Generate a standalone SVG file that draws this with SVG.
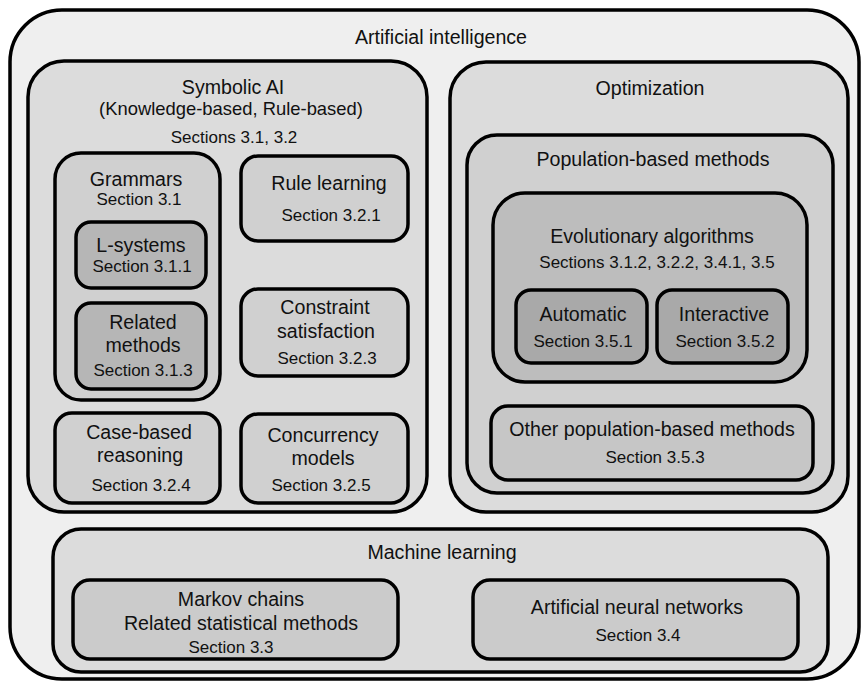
<svg xmlns="http://www.w3.org/2000/svg" width="862" height="682" viewBox="0 0 862 682">
<style>
.b{stroke:#000;stroke-width:3.5}
text{font-family:"Liberation Sans",Arial,sans-serif;fill:#111;text-anchor:middle}
.t{font-size:19.6px}
.p{font-size:18.4px}
.s{font-size:17px}
.l0{fill:#efefef}
.l1{fill:#dcdcdc}
.l2{fill:#d0d0d0}
.l3{fill:#bdbdbd}
.l4{fill:#a9a9a9}
.g3{fill:#b6b6b6}
.o3{fill:#c6c6c6}
.m2{fill:#cbcbcb}
</style>
<rect width="862" height="682" fill="#ffffff"/>
<g id="ai">
<rect class="b l0" x="10" y="10" width="849" height="669" rx="52"/>
<text class="t" x="441" y="44">Artificial intelligence</text>
</g>
<g id="symbolic">
<rect class="b l1" x="28" y="61" width="399" height="451" rx="36"/>
<text class="t" x="233" y="94">Symbolic AI</text>
<text class="p" x="231" y="115">(Knowledge-based, Rule-based)</text>
<text class="s" x="234" y="143">Sections 3.1, 3.2</text>
</g>
<g id="grammars">
<rect class="b l2" x="55" y="153" width="165" height="247" rx="26"/>
<text class="t" x="136" y="186">Grammars</text>
<text class="s" x="139" y="205">Section 3.1</text>
</g>
<g id="lsystems">
<rect class="b g3" x="76" y="222" width="130" height="66" rx="15"/>
<text class="t" x="141" y="252">L-systems</text>
<text class="s" x="142" y="272">Section 3.1.1</text>
</g>
<g id="related">
<rect class="b g3" x="76" y="303" width="130" height="86" rx="15"/>
<text class="t" x="143" y="329">Related</text>
<text class="t" x="143" y="352">methods</text>
<text class="s" x="143" y="376">Section 3.1.3</text>
</g>
<g id="rule">
<rect class="b l2" x="241" y="156" width="167" height="85" rx="17"/>
<text class="t" x="329" y="190">Rule learning</text>
<text class="s" x="331" y="221">Section 3.2.1</text>
</g>
<g id="constraint">
<rect class="b l2" x="241" y="289" width="167" height="87" rx="17"/>
<text class="t" x="325" y="314">Constraint</text>
<text class="t" x="326" y="338">satisfaction</text>
<text class="s" x="327" y="364">Section 3.2.3</text>
</g>
<g id="casebased">
<rect class="b l2" x="55" y="413" width="165" height="90" rx="17"/>
<text class="t" x="139" y="439">Case-based</text>
<text class="t" x="140" y="462">reasoning</text>
<text class="s" x="141" y="491">Section 3.2.4</text>
</g>
<g id="concurrency">
<rect class="b l2" x="241" y="414" width="167" height="89" rx="17"/>
<text class="t" x="323" y="442">Concurrency</text>
<text class="t" x="323" y="465">models</text>
<text class="s" x="321" y="491">Section 3.2.5</text>
</g>
<g id="optimization">
<rect class="b l1" x="450" y="62" width="398" height="450" rx="36"/>
<text class="t" x="650" y="95">Optimization</text>
</g>
<g id="population">
<rect class="b l2" x="467" y="135" width="366" height="358" rx="30"/>
<text class="t" x="653" y="166">Population-based methods</text>
</g>
<g id="evolutionary">
<rect class="b l3" x="493" y="193" width="314" height="189" rx="32"/>
<text class="t" x="652" y="243">Evolutionary algorithms</text>
<text class="s" x="657" y="268">Sections 3.1.2, 3.2.2, 3.4.1, 3.5</text>
</g>
<g id="automatic">
<rect class="b l4" x="516" y="290" width="131" height="73" rx="15"/>
<text class="t" x="583" y="321">Automatic</text>
<text class="s" x="583" y="347">Section 3.5.1</text>
</g>
<g id="interactive">
<rect class="b l4" x="657" y="290" width="131" height="73" rx="15"/>
<text class="t" x="724" y="321">Interactive</text>
<text class="s" x="725" y="347">Section 3.5.2</text>
</g>
<g id="otherpop">
<rect class="b o3" x="491" y="406" width="322" height="74" rx="17"/>
<text class="t" x="652" y="436">Other population-based methods</text>
<text class="s" x="655" y="463">Section 3.5.3</text>
</g>
<g id="ml">
<rect class="b l1" x="53" y="529" width="775" height="143" rx="28"/>
<text class="t" x="442" y="559">Machine learning</text>
</g>
<g id="markov">
<rect class="b m2" x="73" y="580" width="325" height="79" rx="17"/>
<text class="t" x="241" y="606">Markov chains</text>
<text class="t" x="241" y="630">Related statistical methods</text>
<text class="s" x="231" y="653">Section 3.3</text>
</g>
<g id="ann">
<rect class="b m2" x="473" y="580" width="325" height="79" rx="17"/>
<text class="t" x="637" y="614">Artificial neural networks</text>
<text class="s" x="638" y="641">Section 3.4</text>
</g>
<g id="connectors"></g>
</svg>
